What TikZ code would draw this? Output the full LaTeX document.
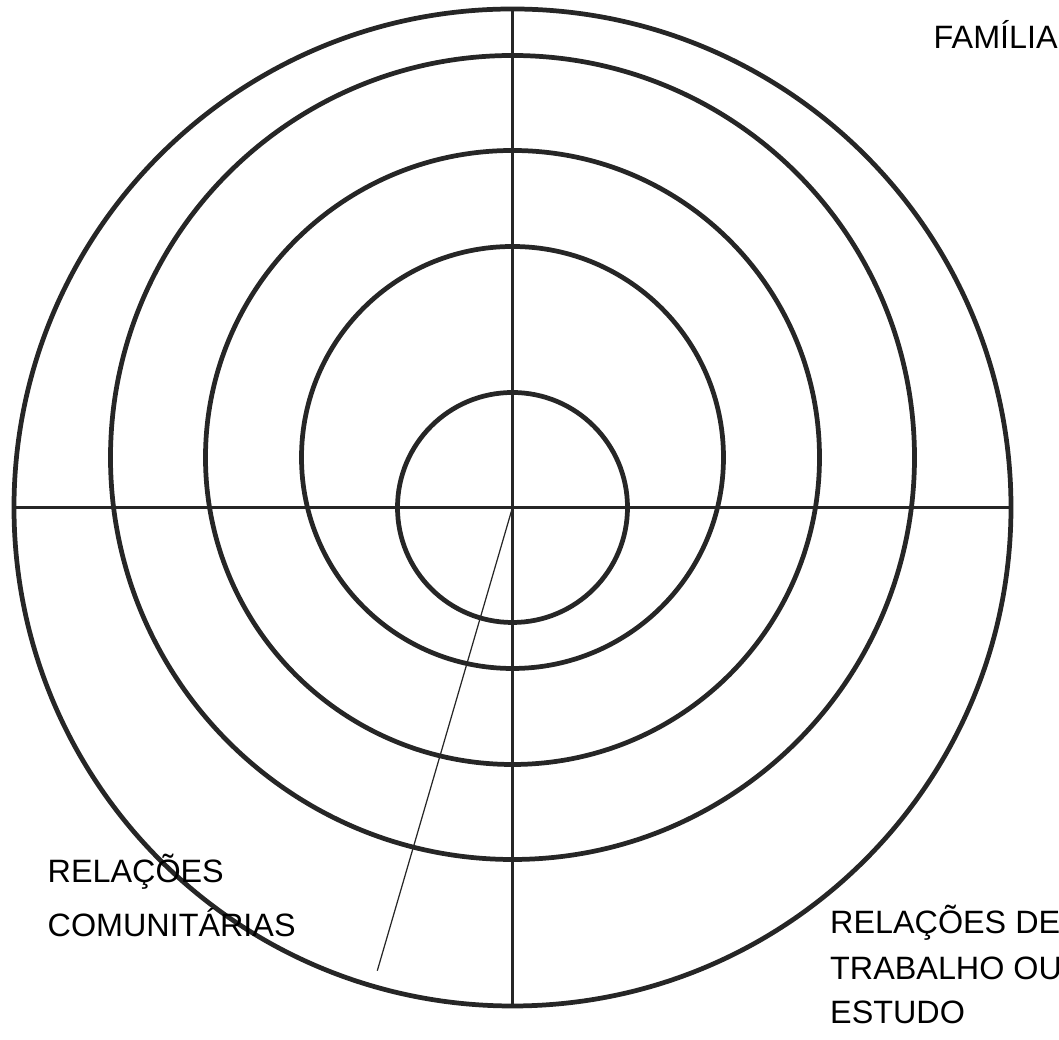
\documentclass[tikz,border=0pt]{standalone}
\usepackage{fontspec}
\setmainfont{Liberation Sans}

\begin{document}
\begin{tikzpicture}[
    ring/.style={line width=1.35pt, draw=black!85},
    axis/.style={line width=0.6pt, draw=black!85},
    lbl/.style={anchor=base west, inner sep=0pt, font=\fontsize{9.2}{10}\selectfont}]
    \useasboundingbox (-5.125,-5.325) rectangle (5.465,5.075);
    \coordinate (o) at (0,0);
    \coordinate (c) at (0,0.50);

    % outer and inner rings (on the axes)
    \draw[ring] (o) circle (4.985);
    \draw[ring] (o) circle (1.15);
    % middle rings, shifted up
    \foreach \r in {4.02,3.07,2.11}
        \draw[ring] (c) circle (\r);

    % axes
    \coordinate (w) at (-4.985,0);
    \coordinate (e) at (4.985,0);
    \coordinate (n) at (0,4.985);
    \coordinate (s) at (0,-4.985);
    \draw[axis] (w) -- (e);
    \draw[axis] (n) -- (s);

    % pointer line
    \coordinate (tip) at (-1.352,-4.632);
    \draw[black!85, line width=0.35pt] (o) -- (tip);

    % labels
    \node[lbl] (fam) at (4.205,4.592) {FAMÍLIA};
    \node[lbl] (com1) at (-4.655,-3.755) {RELAÇÕES};
    \node[lbl] (com2) at (-4.655,-4.295) {COMUNITÁRIAS};
    \node[lbl] (trab1) at (3.17,-4.265) {RELAÇÕES DE};
    \node[lbl] (trab2) at (3.17,-4.725) {TRABALHO OU};
    \node[lbl] (trab3) at (3.17,-5.165) {ESTUDO};
\end{tikzpicture}
\end{document}
